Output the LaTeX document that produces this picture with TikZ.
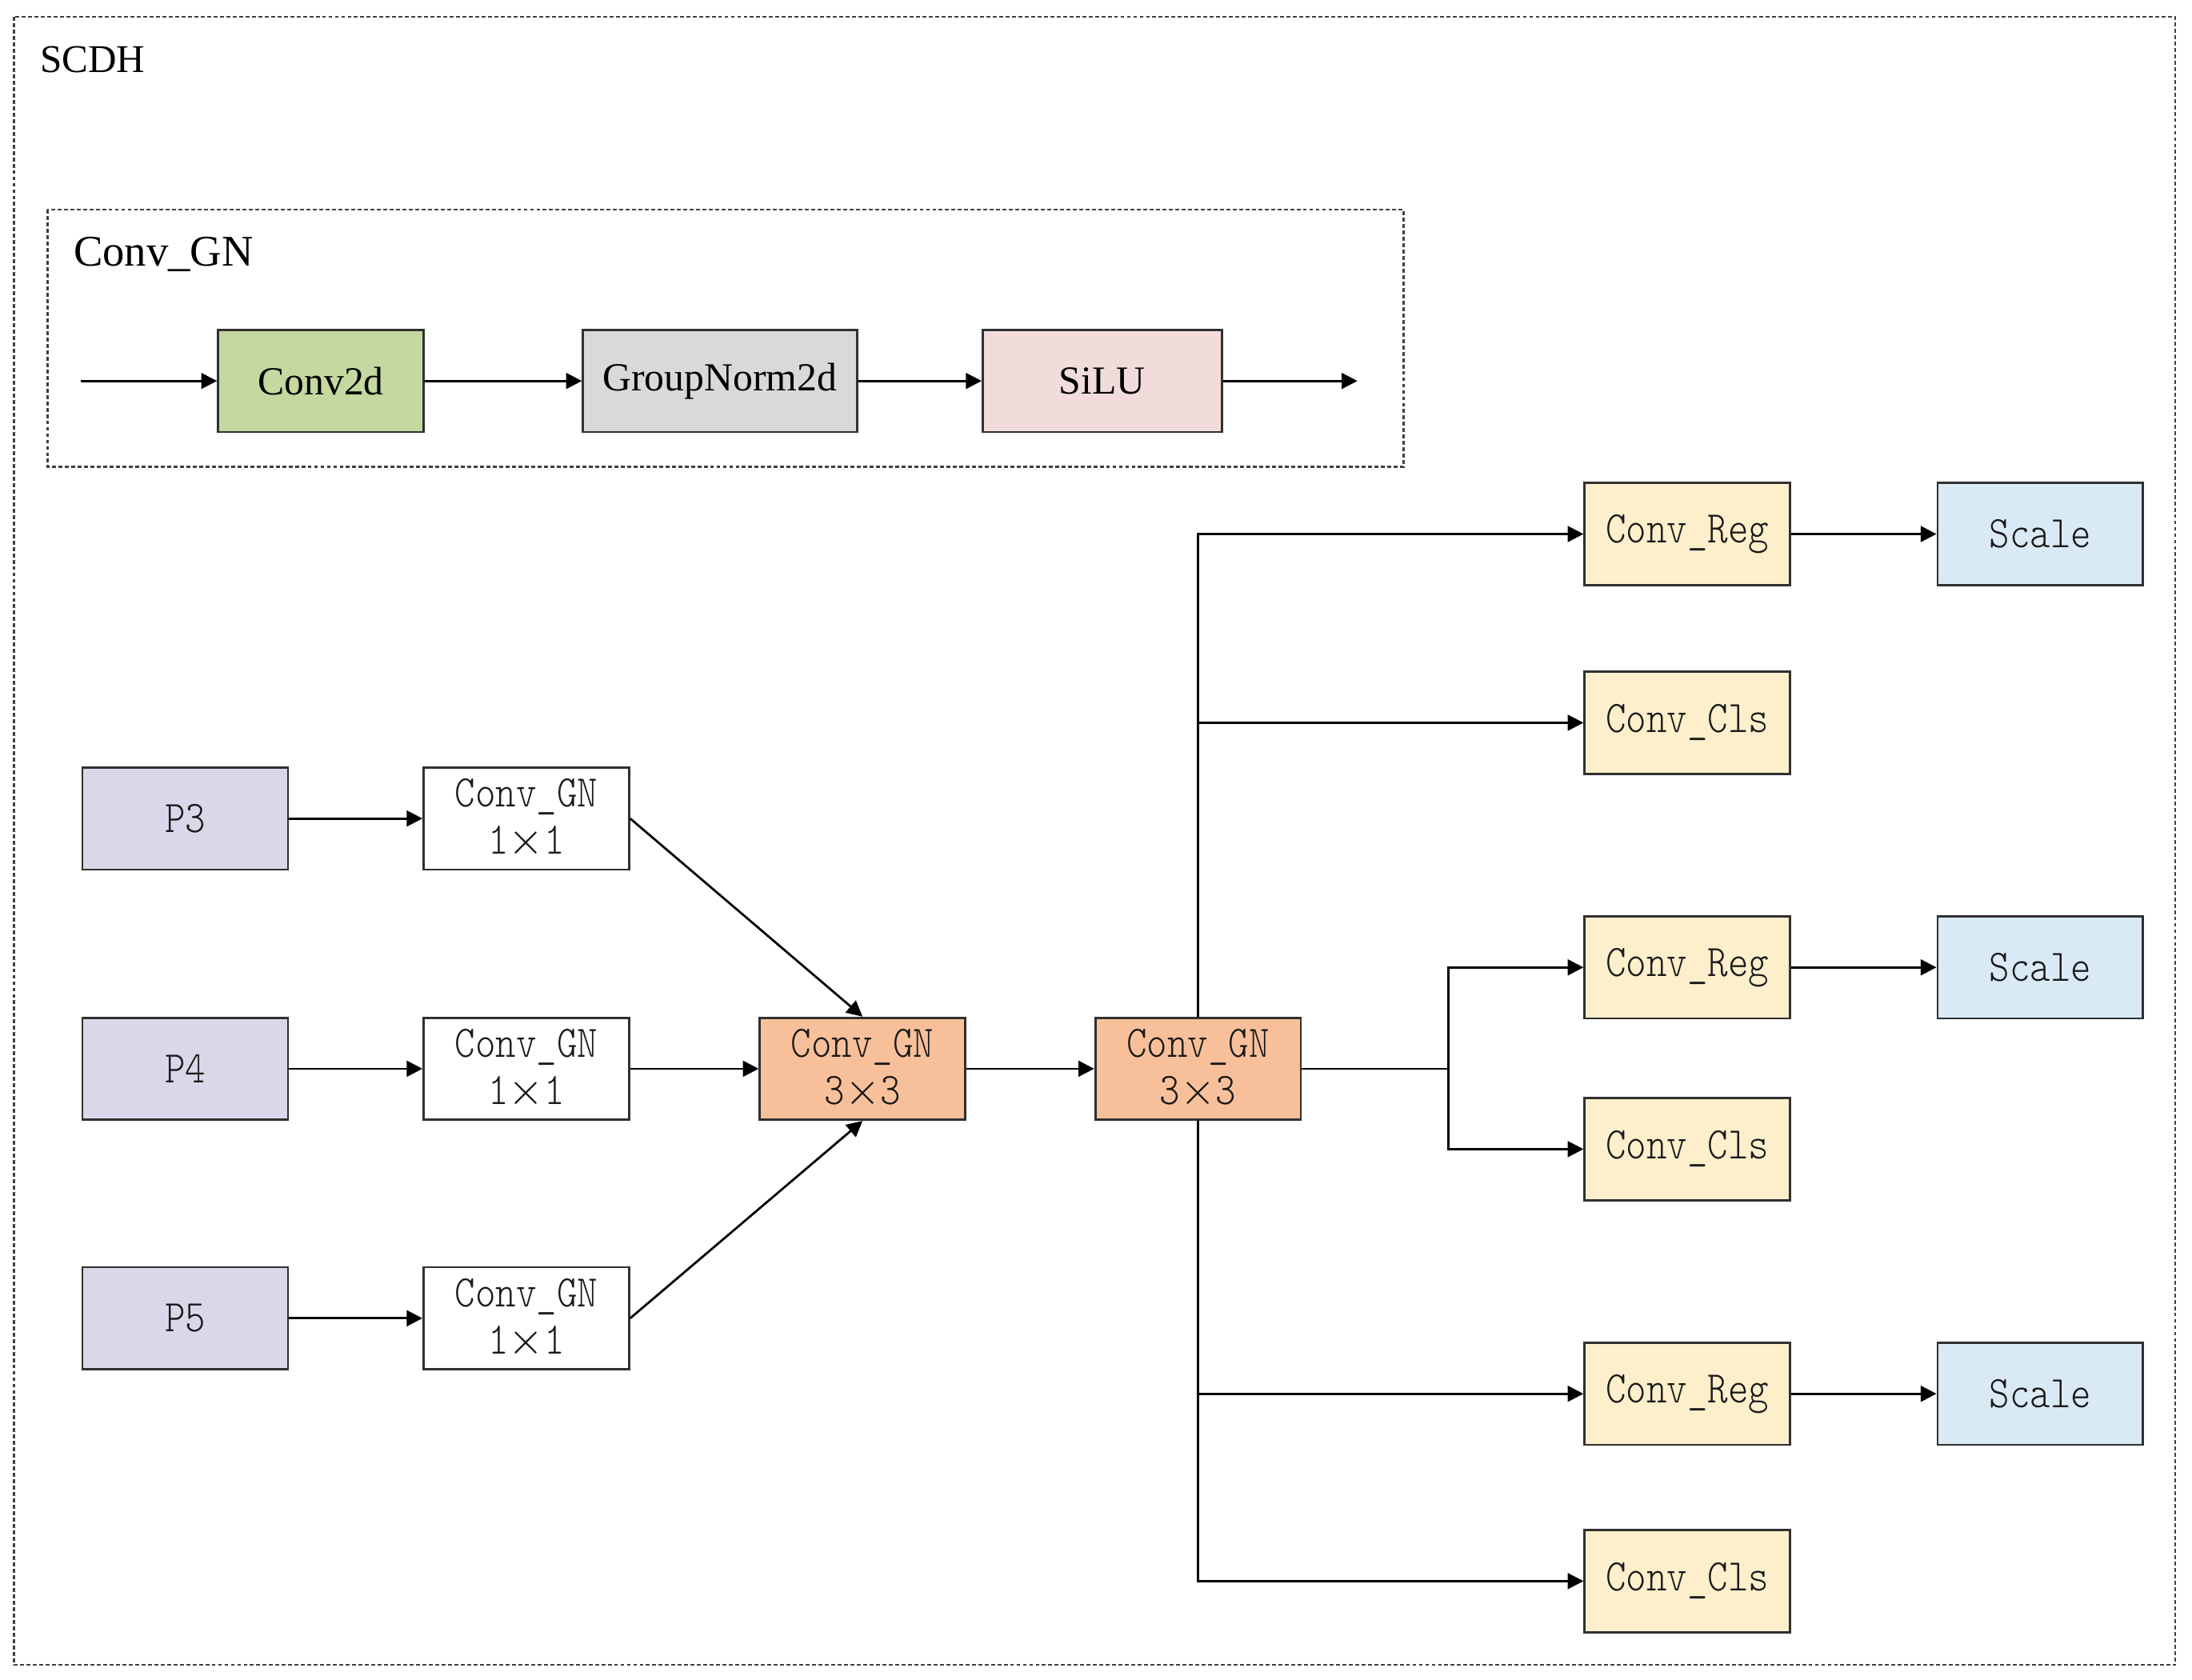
\documentclass[tikz,border=0pt]{standalone}
\usepackage{fontspec}
\setmainfont{Liberation Serif}
\newfontfamily\condmono{lmmonolt10-regular.otf}[FakeStretch=0.86]
\usetikzlibrary{arrows.meta,calc}
\definecolor{cgreen}{HTML}{C4D8A0}
\definecolor{cgray}{HTML}{D9D9D9}
\definecolor{cpink}{HTML}{F2DCDB}
\definecolor{clav}{HTML}{DAD8E8}
\definecolor{corange}{HTML}{F8C09A}
\definecolor{cyellow}{HTML}{FDEFCB}
\definecolor{cblue}{HTML}{DAEAF5}
\definecolor{cline}{HTML}{303030}
\definecolor{ctext}{HTML}{1A1A1A}
\tikzset{
  blk/.style={draw=cline, line width=0.45pt, minimum height=7.3mm, inner sep=0pt, align=center},
  topbox/.style={blk, font=\fontsize{8.1}{9}\selectfont},
  mbox/.style={blk, minimum width=14.7mm, text=ctext, font=\condmono\fontsize{9.2}{9.7}\selectfont},
  conn/.style={draw=black, line width=0.45pt},
  arr/.style={conn, -{Triangle[length=3.2pt,width=3.2pt]}},
  dbox/.style={draw=black!75, line width=0.4pt, dash pattern=on 0.8pt off 0.5pt}
}
\newcommand{\tms}{$\times$}
\begin{document}
\begin{tikzpicture}[x=0.1mm,y=-0.1mm]
\useasboundingbox (0,0) rectangle (1568,1201.2);
% outer frame
\draw[dbox] (10,12) rectangle (1556,1191);
\node[anchor=base west, inner sep=0pt, font=\fontsize{8}{9}\selectfont] (scdh) at (28,52) {SCDH};
% Conv_GN inner frame
\draw[dbox] (34,150) rectangle (1004,334);
\node[anchor=base west, inner sep=0pt, font=\fontsize{8.9}{10}\selectfont] (cgtitle) at (52,190) {Conv\_GN};
\coordinate (cin) at (58,272.5);
\node[topbox, fill=cgreen, minimum width=14.7mm] (conv2d) at (229.5,272.5) {Conv2d};
\node[topbox, fill=cgray, minimum width=19.6mm] (gn) at (515,272.5) {GroupNorm2d};
\node[topbox, fill=cpink, minimum width=17.1mm] (silu) at (788.5,272.5) {SiLU};
\coordinate (cout) at (971,272.5);
\draw[arr] (cin) -- (conv2d);
\draw[arr] (conv2d) -- (gn);
\draw[arr] (gn) -- (silu);
\draw[arr] (silu) -- (cout);
% inputs
\node[mbox, fill=clav] (p3) at (132.5,585.5) {P3};
\node[mbox, fill=clav] (p4) at (132.5,764.5) {P4};
\node[mbox, fill=clav] (p5) at (132.5,943) {P5};
\node[mbox, fill=white] (c3) at (376.5,585.5) {Conv\_GN\\1\tms1};
\node[mbox, fill=white] (c4) at (376.5,764.5) {Conv\_GN\\1\tms1};
\node[mbox, fill=white] (c5) at (376.5,943) {Conv\_GN\\1\tms1};
\node[mbox, fill=corange] (ga) at (617,764.5) {Conv\_GN\\3\tms3};
\node[mbox, fill=corange] (gb) at (857,764.5) {Conv\_GN\\3\tms3};
\draw[arr] (p3) -- (c3);
\draw[arr] (p4) -- (c4);
\draw[arr] (p5) -- (c5);
\draw[arr] (c3.east) -- (ga.north);
\draw[arr] (c4) -- (ga);
\draw[arr] (c5.east) -- (ga.south);
\draw[arr] (ga) -- (gb);
% heads
\node[mbox, fill=cyellow] (reg1) at (1207,382) {Conv\_Reg};
\node[mbox, fill=cblue] (sc1) at (1459.5,382) {Scale};
\node[mbox, fill=cyellow] (cls1) at (1207,517) {Conv\_Cls};
\node[mbox, fill=cyellow] (reg2) at (1207,692) {Conv\_Reg};
\node[mbox, fill=cblue] (sc2) at (1459.5,692) {Scale};
\node[mbox, fill=cyellow] (cls2) at (1207,822) {Conv\_Cls};
\node[mbox, fill=cyellow] (reg3) at (1207,997) {Conv\_Reg};
\node[mbox, fill=cblue] (sc3) at (1459.5,997) {Scale};
\node[mbox, fill=cyellow] (cls3) at (1207,1131) {Conv\_Cls};
\draw[arr] (gb.north) |- (reg1.west);
\draw[arr] (gb.north) |- (cls1.west);
\draw[arr] (gb.south) |- (reg3.west);
\draw[arr] (gb.south) |- (cls3.west);
\coordinate (br) at (1036,764.5);
\draw[conn] (gb.east) -- (br);
\draw[arr] (br) |- (reg2.west);
\draw[arr] (br) |- (cls2.west);
\draw[arr] (reg1) -- (sc1);
\draw[arr] (reg2) -- (sc2);
\draw[arr] (reg3) -- (sc3);
\end{tikzpicture}
\end{document}
